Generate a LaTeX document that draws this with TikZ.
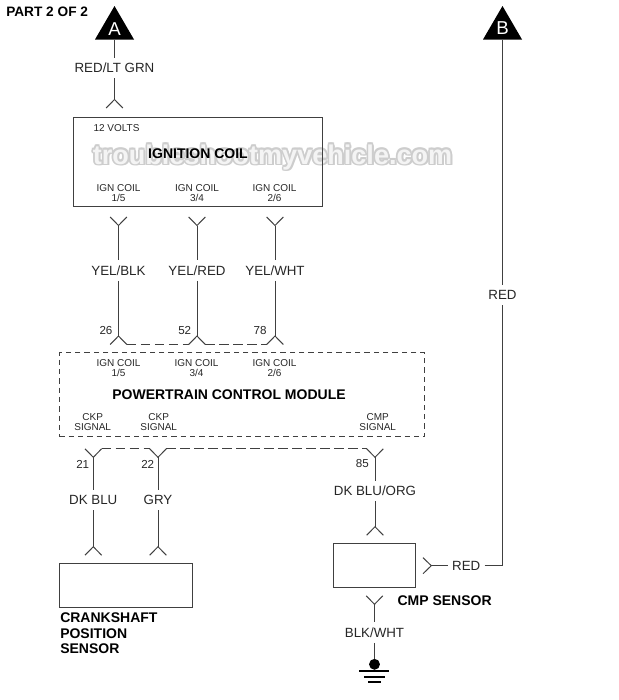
\documentclass[tikz,border=0pt]{standalone}
\usepackage{fontspec}
\setmainfont{Liberation Sans}
\newcommand{\fsS}{\fontsize{7.5pt}{7.5pt}\selectfont}
\newcommand{\fsM}{\fontsize{10pt}{10pt}\selectfont}
\newcommand{\fsN}{\fontsize{8.7pt}{8.7pt}\selectfont}
\newcommand{\fsB}{\fontsize{10.5pt}{10.5pt}\selectfont\bfseries}
\newcommand{\fsW}{\fontsize{20.3pt}{20.3pt}\selectfont\bfseries}
\definecolor{wire}{HTML}{404040}
\definecolor{wm}{HTML}{CDCDCD}
\definecolor{wmfill}{HTML}{F4F4F4}
\tikzset{
  x=0.75pt,y=-0.75pt,
  wireline/.style={draw=wire,line width=0.75pt},
  boxline/.style={draw=wire,line width=0.75pt},
  dashbox/.style={draw=wire,line width=0.65pt,dash pattern=on 4pt off 3pt},
  dashwire/.style={draw=wire,line width=0.75pt,dash pattern=on 7pt off 3.5pt},
  wirelabel/.style={inner sep=0pt,minimum height=15pt,font=\fsM,text=black!85},
  smalltext/.style={inner sep=0pt,font=\fsS,text=black!85},
  pintext/.style={inner sep=0pt,font=\fsN,text=black!85},
  boldtext/.style={inner sep=0pt,font=\fsB,text=black},
  flag/.style={fill=black,draw=none},
  flagtext/.style={inner sep=0pt,text=white,font=\fontsize{14pt}{14pt}\selectfont},
}
\begin{document}
\begin{tikzpicture}
\useasboundingbox (0,0) rectangle (618,700);
% watermark
\foreach \dx/\dy in {-1.6/0,1.6/0,0/-1.6,0/1.6,-1.2/-1.2,1.2/1.2,-1.2/1.2,1.2/-1.2,2/1.6}
  \node[inner sep=0pt,font=\fsW,text=wm] at (272.5+\dx,157+\dy) {troubleshootmyvehicle.com};
\node[inner sep=0pt,font=\fsW,text=wmfill] (wmark) at (272.5,157) {troubleshootmyvehicle.com};

\node[boldtext,font=\fontsize{10.25pt}{10.25pt}\selectfont\bfseries,anchor=west] (part) at (6,12) {PART 2 OF 2};

% flags
\path[flag] (114.5,6) -- (134,39.5) -- (95,39.5) -- cycle;
\coordinate (aB) at (114.5,39.5);
\node[flagtext] (aL) at (114.5,29) {A};
\path[flag] (502.5,6) -- (522,39.5) -- (483,39.5) -- cycle;
\coordinate (bB) at (502.5,39.5);
\node[flagtext] (bL) at (502.5,28.5) {B};

% boxes
\node[boxline,inner sep=0pt,minimum width=186.4pt,minimum height=66.4pt] (coil) at (197.75,162.25) {};
\node[dashbox,inner sep=0pt,minimum width=273.9pt,minimum height=63pt] (pcm) at (242,394.7) {};
\node[boxline,inner sep=0pt,minimum width=99.5pt,minimum height=33pt] (ckp) at (126,585.3) {};
\node[boxline,inner sep=0pt,minimum width=61.8pt,minimum height=33pt] (cmp) at (374.5,565.3) {};

% coil texts
\node[smalltext] (v12) at (116.5,128.5) {12 VOLTS};
\node[boldtext] (coilT) at (198,153.5) {IGNITION COIL};
\node[smalltext,align=center] (c1) at (118.5,193) {IGN COIL\\1/5};
\node[smalltext,align=center] (c2) at (197,193) {IGN COIL\\3/4};
\node[smalltext,align=center] (c3) at (274.5,193) {IGN COIL\\2/6};

% pcm texts
\node[smalltext,align=center] (p1) at (118.5,368.5) {IGN COIL\\1/5};
\node[smalltext,align=center] (p2) at (196.5,368.5) {IGN COIL\\3/4};
\node[smalltext,align=center] (p3) at (274.5,368.5) {IGN COIL\\2/6};
\node[boldtext] (pcmT) at (229,394.5) {POWERTRAIN CONTROL MODULE};
\node[smalltext,align=center] (s1) at (92.7,421.7) {CKP\\SIGNAL};
\node[smalltext,align=center] (s2) at (158.7,421.7) {CKP\\SIGNAL};
\node[smalltext,align=center] (s3) at (377.7,421.7) {CMP\\SIGNAL};

% sensor texts
\node[boldtext,align=left,anchor=north west] (ckpT) at (60,612.5) {CRANKSHAFT\\[1.1pt]POSITION\\[1.1pt]SENSOR};
\node[boldtext,anchor=west] (cmpT) at (397.3,600.7) {CMP SENSOR};

% pin numbers
\node[pintext] (n26) at (106,331) {26};
\node[pintext] (n52) at (184.7,331) {52};
\node[pintext] (n78) at (260,331) {78};
\node[pintext] (n21) at (82.7,464) {21};
\node[pintext] (n22) at (147.7,464) {22};
\node[pintext] (n85) at (362.3,464) {85};

% wire labels
\node[wirelabel] (wA) at (114.5,68) {RED/LT GRN};
\node[wirelabel] (w1) at (118.5,270.5) {YEL/BLK};
\node[wirelabel] (w2) at (197,270.5) {YEL/RED};
\node[wirelabel] (w3) at (275,270.5) {YEL/WHT};
\node[wirelabel] (w21) at (93.3,500) {DK BLU};
\node[wirelabel] (w22) at (158,500) {GRY};
\node[wirelabel] (w85) at (375,491) {DK BLU/ORG};
\node[wirelabel] (wG) at (374.5,632.5) {BLK/WHT};
\node[wirelabel] (wB) at (502.5,295) {RED};
\node[wirelabel,inner xsep=3pt] (wR) at (466.3,565.7) {RED};

% connector tips
\foreach \n/\x/\y in {tA/114.5/99.5,t1/118.5/225.5,t2/197/225.5,t3/275/225.5,
  u1/118.5/336,u2/197/336,u3/275/336,
  d1/93.3/457.3,d2/158/457.3,d3/375/457.3,
  e1/93.3/546.7,e2/158/546.7,e3/375/526.7,f1/374.5/604.3}
  \coordinate (\n) at (\x,\y);
\coordinate (rT) at (431.3,565.7);
\coordinate (rC) at (502.5,565.7);
\node[circle,fill=black,inner sep=0pt,minimum size=8.2pt] (gnd) at (374.5,664.3) {};

% Y-shaped terminals
\foreach \n in {t1,t2,t3,d1,d2,d3,f1}
  \draw[wireline] ([shift={(-8.3,-8.5)}]\n) -- (\n) -- ([shift={(8.3,-8.5)}]\n);
\foreach \n in {tA,u1,u2,u3,e1,e2,e3}
  \draw[wireline] ([shift={(-8.3,8.5)}]\n) -- (\n) -- ([shift={(8.3,8.5)}]\n);
\draw[wireline] ([shift={(-8.3,-8)}]rT) -- (rT) -- ([shift={(-8.3,8)}]rT);

% wires
\draw[wireline] (aB) -- (wA.north);
\draw[wireline] (wA.south) -- (tA);
\foreach \t/\w/\u in {t1/w1/u1,t2/w2/u2,t3/w3/u3}{
  \draw[wireline] (\t) -- (\w.north);
  \draw[wireline] (\w.south) -- (\u);
}
\foreach \d/\w/\e in {d1/w21/e1,d2/w22/e2,d3/w85/e3}{
  \draw[wireline] (\d) -- (\w.north);
  \draw[wireline] (\w.south) -- (\e);
}
\draw[wireline] (f1) -- (wG.north);
\draw[wireline] (wG.south) -- (gnd.north);
\draw[wireline] (rT) -- (wR.west);
\draw[wireline] (wR.east) -- (rC) -- (wB.south);
\draw[wireline] (wB.north) -- (bB);

% dashed ties
\draw[dashwire] ([shift={(8.3,8.5)}]u1) -- ([shift={(-8.3,8.5)}]u2);
\draw[dashwire] ([shift={(8.3,8.5)}]u2) -- ([shift={(-8.3,8.5)}]u3);
\draw[dashwire] ([shift={(8.3,-8.5)}]d1) -- ([shift={(-8.3,-8.5)}]d2);
\draw[dashwire] ([shift={(8.3,-8.5)}]d2) -- ([shift={(-8.3,-8.5)}]d3);

% ground
\draw[line width=1.5pt] (359.3,671.3) -- (389.3,671.3);
\draw[line width=1.4pt] (364,676.9) -- (385,676.9);
\draw[line width=1.4pt] (368.3,682.2) -- (380.7,682.2);
\end{tikzpicture}
\end{document}
